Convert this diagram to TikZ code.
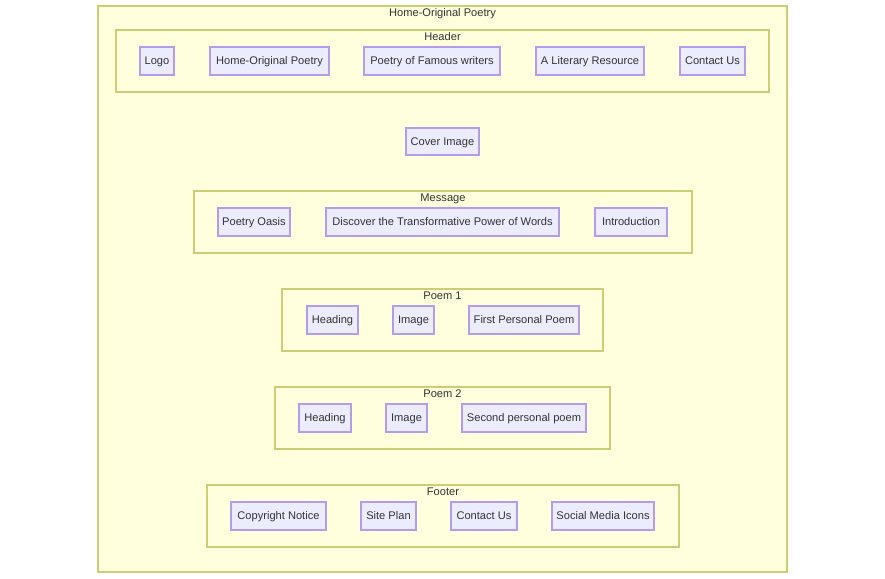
\documentclass[tikz,border=0pt]{standalone}
\usepackage{fontspec}
\setmainfont{Liberation Sans}
\definecolor{clfill}{HTML}{FFFFDE}
\definecolor{clstroke}{HTML}{CDCD78}
\definecolor{ndfill}{HTML}{ECECFF}
\definecolor{ndstroke}{HTML}{B49CE8}
\definecolor{txt}{HTML}{333333}
\tikzset{
  cluster/.style={draw=clstroke, fill=clfill, line width=1.1pt, rectangle, inner sep=0pt},
  nbox/.style={draw=ndstroke, fill=ndfill, line width=1.1pt, rectangle, inner sep=0pt,
    minimum height=28pt, text=txt, text height=10pt, text depth=2.5pt,
    font=\fontsize{11.1}{13}\selectfont},
  ctitle/.style={text=txt, inner sep=0pt, text height=10pt, text depth=2.5pt,
    font=\fontsize{11.1}{13}\selectfont},
}
\begin{document}
\begin{tikzpicture}[x=1pt,y=-1pt]
\useasboundingbox (0,0) rectangle (885,578);
\fill[white] (0,0) rectangle (885,578);
% outer
\node[cluster, minimum width=689pt, minimum height=566pt] (outer) at (442.5,289) {};
\node[ctitle] (outerT) at (442.5,13) {Home-Original Poetry};
% header
\node[cluster, minimum width=653pt, minimum height=62pt] (header) at (442.5,61) {};
\node[ctitle] (headerT) at (442.5,37) {Header};
\node[nbox, minimum width=34pt] (logo) at (157,61) {Logo};
\node[nbox, minimum width=119pt] (hop) at (269.5,61) {Home-Original Poetry};
\node[nbox, minimum width=136pt] (pfw) at (432,61) {Poetry of Famous writers};
\node[nbox, minimum width=108pt] (alr) at (590,61) {A Literary Resource};
\node[nbox, minimum width=65pt] (cu1) at (712.5,61) {Contact Us};
% cover
\node[nbox, minimum width=73pt, minimum height=27pt] (cover) at (442.5,141.5) {Cover Image};
% message
\node[cluster, minimum width=498pt, minimum height=62pt] (message) at (443,222) {};
\node[ctitle] (messageT) at (443,198) {Message};
\node[nbox, minimum width=72pt] (oasis) at (254,222) {Poetry Oasis};
\node[nbox, minimum width=233pt] (disc) at (442.5,222) {Discover the Transformative Power of Words};
\node[nbox, minimum width=72pt] (intro) at (631,222) {Introduction};
% poem 1
\node[cluster, minimum width=321pt, minimum height=62pt] (poem1) at (442.5,320) {};
\node[ctitle] (poem1T) at (442.5,296) {Poem 1};
\node[nbox, minimum width=51pt] (h1) at (332.5,320) {Heading};
\node[nbox, minimum width=41pt] (i1) at (413.5,320) {Image};
\node[nbox, minimum width=110pt] (p1) at (524,320) {First Personal Poem};
% poem 2
\node[cluster, minimum width=335pt, minimum height=62pt] (poem2) at (442.5,418) {};
\node[ctitle] (poem2T) at (442.5,394) {Poem 2};
\node[nbox, minimum width=52pt] (h2) at (325,418) {Heading};
\node[nbox, minimum width=41pt] (i2) at (406.5,418) {Image};
\node[nbox, minimum width=124pt] (p2) at (524,418) {Second personal poem};
% footer
\node[cluster, minimum width=472pt, minimum height=62pt] (footer) at (443,516) {};
\node[ctitle] (footerT) at (443,492) {Footer};
\node[nbox, minimum width=95pt] (copy) at (278.5,516) {Copyright Notice};
\node[nbox, minimum width=55pt] (site) at (388.5,516) {Site Plan};
\node[nbox, minimum width=66pt] (cu2) at (484,516) {Contact Us};
\node[nbox, minimum width=102pt] (smi) at (603,516) {Social Media Icons};
\end{tikzpicture}
\end{document}
